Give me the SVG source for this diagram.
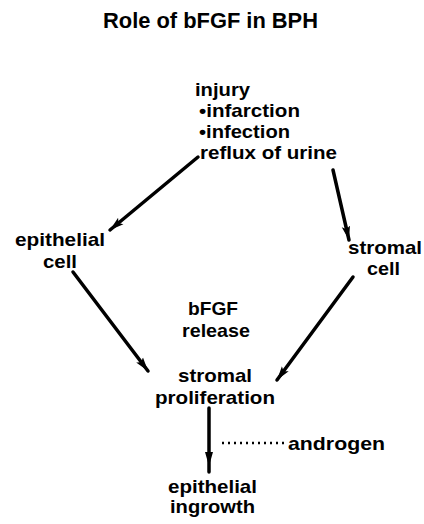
<svg xmlns="http://www.w3.org/2000/svg" width="424" height="524" viewBox="0 0 424 524">
<defs>
<style>
text{font-family:"Liberation Sans",Arial,sans-serif;font-weight:bold;fill:#000;}
.t{font-size:19px;}
.title{font-size:22px;}
.c{stroke:#000;stroke-width:3.5;fill:none;stroke-linecap:round;}
.dot{stroke:#000;stroke-width:2.5;stroke-dasharray:2 4;fill:none;}
</style>
<marker id="ah" markerUnits="userSpaceOnUse" markerWidth="16" markerHeight="10" refX="14" refY="5" orient="auto">
<path d="M0,0.8 L14,5 L0,9.2 L3,5 Z" fill="#000"/>
</marker>
</defs>
<rect width="424" height="524" fill="#fff"/>
<g id="title"><text class="title" x="103" y="28" textLength="215" lengthAdjust="spacingAndGlyphs">Role of bFGF in BPH</text></g>
<g id="injury">
<text class="t" x="195" y="96" textLength="55" lengthAdjust="spacingAndGlyphs">injury</text>
<text class="t" x="199" y="117" textLength="101" lengthAdjust="spacingAndGlyphs">•infarction</text>
<text class="t" x="199" y="138" textLength="91" lengthAdjust="spacingAndGlyphs">•infection</text>
<text class="t" x="200" y="159" textLength="137" lengthAdjust="spacingAndGlyphs">reflux of urine</text>
</g>
<g id="epithelial-cell">
<text class="t" x="15" y="246" textLength="90" lengthAdjust="spacingAndGlyphs">epithelial</text>
<text class="t" x="43" y="268" textLength="34" lengthAdjust="spacingAndGlyphs">cell</text>
</g>
<g id="stromal-cell">
<text class="t" x="348" y="254" textLength="74" lengthAdjust="spacingAndGlyphs">stromal</text>
<text class="t" x="367" y="275" textLength="33" lengthAdjust="spacingAndGlyphs">cell</text>
</g>
<g id="bfgf-release">
<text class="t" x="188" y="315" textLength="50" lengthAdjust="spacingAndGlyphs">bFGF</text>
<text class="t" x="182" y="337" textLength="68" lengthAdjust="spacingAndGlyphs">release</text>
</g>
<g id="stromal-proliferation">
<text class="t" x="178" y="382" textLength="74" lengthAdjust="spacingAndGlyphs">stromal</text>
<text class="t" x="155" y="404" textLength="120" lengthAdjust="spacingAndGlyphs">proliferation</text>
</g>
<g id="androgen">
<text class="t" x="288" y="450" textLength="97" lengthAdjust="spacingAndGlyphs">androgen</text>
</g>
<g id="epithelial-ingrowth">
<text class="t" x="168" y="493" textLength="89" lengthAdjust="spacingAndGlyphs">epithelial</text>
<text class="t" x="170" y="513" textLength="85" lengthAdjust="spacingAndGlyphs">ingrowth</text>
</g>
<g id="connectors">
<line class="c" x1="198" y1="157" x2="110" y2="230" marker-end="url(#ah)"/>
<line class="c" x1="333" y1="170" x2="349" y2="240" marker-end="url(#ah)"/>
<line class="c" x1="73" y1="272" x2="148" y2="371" marker-end="url(#ah)"/>
<line class="c" x1="353" y1="277" x2="277" y2="380" marker-end="url(#ah)"/>
<line class="c" x1="209" y1="408" x2="209" y2="472"/>
<path d="M205,452 L209,466 L213,452 Z" fill="#000"/>
<line class="dot" x1="222" y1="443" x2="285" y2="443"/>
</g>
</svg>
